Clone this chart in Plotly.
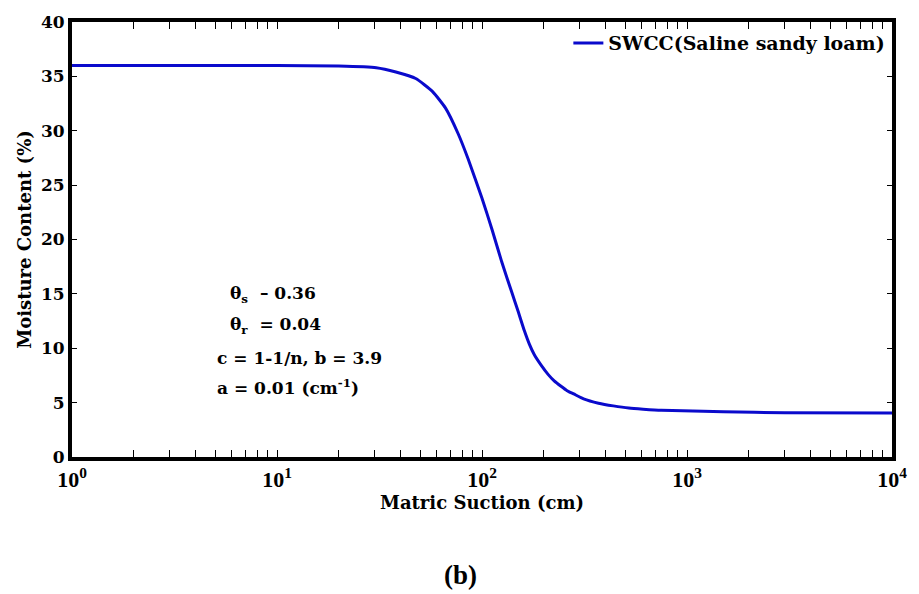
import plotly.graph_objects as go

# Matric suction (cm) and moisture content (%)
suction = [1, 3, 10, 20, 30.5, 38, 47.5, 57.4, 66.3, 76.6, 85.6, 100, 112, 125, 140, 150,
           161, 170, 180, 195, 210, 225, 243, 260, 280, 313, 370, 437, 520, 611, 750, 951,
           1500, 3000, 10000]
moisture = [36.0, 36.0, 36.0, 35.95, 35.8, 35.4, 34.8, 33.6, 32.1, 29.7, 27.4, 23.8, 20.9,
            17.9, 15.1, 13.4, 11.6, 10.4, 9.4, 8.4, 7.6, 7.0, 6.5, 6.1, 5.8, 5.35, 4.95, 4.7,
            4.5, 4.4, 4.3, 4.25, 4.15, 4.08, 4.05]

series_name = "SWCC(Saline sandy loam)"
x_major = [1, 10, 100, 1000, 10000]
x_major_labels = ["10<sup>0</sup>", "10<sup>1</sup>", "10<sup>2</sup>", "10<sup>3</sup>", "10<sup>4</sup>"]
y_ticks = [0, 5, 10, 15, 20, 25, 30, 35, 40]

SERIF = "Liberation Serif"
WIDE = "DejaVu Serif"

x_minor = [k * 10 ** d for d in range(4) for k in range(2, 10)]

fig = go.Figure()
fig.add_trace(go.Scatter(
    x=suction, y=moisture, mode="lines", name=f"<b>{series_name}</b>",
    line=dict(color="#0A0ACC", width=3, shape="spline", smoothing=0.5),
))

fig.update_layout(
    width=919, height=594,
    margin=dict(l=72, r=17, t=16, b=137),
    paper_bgcolor="white", plot_bgcolor="white",
    font=dict(family=WIDE, color="black"),
    showlegend=True,
    legend=dict(x=0.998, y=0.995, xanchor="right", yanchor="top",
                bgcolor="rgba(0,0,0,0)", borderwidth=0,
                font=dict(family=WIDE, size=19, color="black"),
                itemwidth=30),
)

fig.update_xaxes(
    type="log", range=[0, 4],
    tickvals=x_major, ticktext=[f"<b>{t}</b>" for t in x_major_labels],
    ticks="inside", ticklen=7, tickwidth=1, tickcolor="black",
    minor=dict(tickvals=x_minor, ticks="inside", ticklen=7, tickwidth=1,
               tickcolor="black", showgrid=False),
    showline=True, linewidth=4, linecolor="black", mirror="allticks",
    showgrid=False, zeroline=False,
    tickfont=dict(family=SERIF, size=22, color="black"),
    title=dict(text="<b>Matric Suction (cm)</b>", font=dict(family=WIDE, size=18, color="black"),
               standoff=4),
)
fig.update_yaxes(
    range=[0, 40], tickvals=y_ticks, ticktext=[f"<b>{v}</b>" for v in y_ticks],
    ticks="inside", ticklen=5, tickwidth=1, tickcolor="black",
    showline=True, linewidth=4, linecolor="black", mirror="allticks",
    showgrid=False, zeroline=False,
    tickfont=dict(family=WIDE, size=17, color="black"),
    title=dict(text="<b>Moisture Content (%)</b>", font=dict(family=WIDE, size=18, color="black"),
               standoff=6),
)

ann_font = dict(family=WIDE, size=17, color="black")
params = [
    ("<b>θ<sub>s</sub>  – 0.36</b>", 292, 230),
    ("<b>θ<sub>r</sub>  = 0.04</b>", 324, 230),
    ("<b>c = 1-1/n, b = 3.9</b>", 357, 217),
    ("<b>a = 0.01 (cm<sup>-1</sup>)</b>", 386, 217),
]
for txt, ypx, xpx in params:
    fig.add_annotation(
        xref="paper", yref="paper",
        x=(xpx - 72) / (902 - 72),
        y=(457 - ypx) / (457 - 16),
        text=txt, showarrow=False, xanchor="left", yanchor="middle", font=ann_font,
    )

fig.add_annotation(
    xref="paper", yref="paper", x=(465 - 72) / (902 - 72), y=(457 - 577) / (457 - 16),
    text="<b>(b)</b>", showarrow=False, xanchor="center", yanchor="middle",
    font=dict(family=SERIF, size=27, color="black"),
)

fig.write_html("out.html")
